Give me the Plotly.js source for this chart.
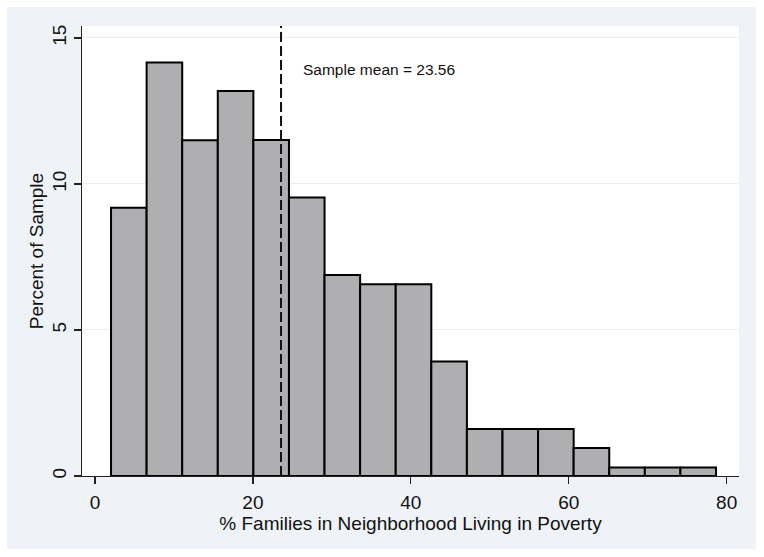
<!DOCTYPE html>
<html>
<head>
<meta charset="utf-8">
<script src="https://cdn.plot.ly/plotly-3.0.1.min.js"></script>
<style>
  html, body { margin: 0; padding: 0; background: #ffffff; width: 764px; height: 557px; overflow: hidden; }
  #chart { position: absolute; left: 7px; top: 7px; width: 749px; height: 542px; }
</style>
</head>
<body>
<div id="chart"></div>
<script>
// Histogram: percent of sample per bin
const binStart = 2.03;      // left edge of first bin
const binWidth = 4.507;     // bin width
const percents = [9.19, 14.16, 11.50, 13.18, 11.51, 9.54, 6.88, 6.57, 6.57, 3.92, 1.61, 1.61, 1.61, 0.96, 0.29, 0.29, 0.29];
const sampleMean = 23.56;
const meanLabel = 'Sample mean = 23.56';
const xTicks = [0, 20, 40, 60, 80];
const yTicks = [0, 5, 10, 15];
const xTitle = '% Families in Neighborhood Living in Poverty';
const yTitle = 'Percent of Sample';

const binLefts = percents.map((_, i) => binStart + i * binWidth);

const font = 'Arial, "Liberation Sans", sans-serif';

const bars = {
  type: 'bar',
  x: binLefts,
  y: percents,
  width: binWidth,
  offset: 0,
  marker: { color: '#afafb2', line: { color: '#000000', width: 2 } },
  hoverinfo: 'skip',
  showlegend: false
};

const layout = {
  width: 749,
  height: 542,
  margin: { l: 75, r: 17, t: 19, b: 73, pad: 0 },
  paper_bgcolor: '#eff3f8',
  plot_bgcolor: '#ffffff',
  bargap: 0,
  showlegend: false,
  font: { family: font, size: 19, color: '#111111' },
  xaxis: {
    range: [-1.646, 81.56],
    tickvals: xTicks,
    ticktext: xTicks.map(String),
    ticks: 'outside',
    ticklen: 7,
    tickwidth: 1.2,
    tickcolor: '#222222',
    ticklabelstandoff: 2,
    showline: true,
    linecolor: '#222222',
    linewidth: 1.3,
    showgrid: false,
    zeroline: false,
    tickfont: { family: font, size: 19, color: '#111111' },
    title: { text: xTitle, font: { family: font, size: 19, color: '#111111' }, standoff: 0 }
  },
  yaxis: {
    range: [0, 15.41],
    tickvals: yTicks,
    ticktext: yTicks.map(String),
    tickangle: -90,
    ticks: 'outside',
    ticklen: 7,
    tickwidth: 1.2,
    tickcolor: '#222222',
    showline: true,
    linecolor: '#222222',
    linewidth: 1.3,
    showgrid: true,
    gridcolor: '#e8eef3',
    gridwidth: 1,
    zeroline: false,
    tickfont: { family: font, size: 19, color: '#111111' },
    title: { text: yTitle, font: { family: font, size: 19, color: '#111111' }, standoff: 0 }
  },
  shapes: [{
    type: 'line',
    xref: 'x', yref: 'paper',
    x0: sampleMean, x1: sampleMean, y0: 0, y1: 1,
    line: { color: '#111111', width: 2, dash: '10px,4px' },
    layer: 'above'
  }],
  annotations: [{
    xref: 'x', yref: 'y',
    x: 26.09, y: 13.93,
    xanchor: 'left', yanchor: 'middle',
    text: meanLabel,
    showarrow: false,
    font: { family: font, size: 15.5, color: '#111111' }
  }]
};

Plotly.newPlot('chart', [bars], layout, { displayModeBar: false, staticPlot: true });
</script>
</body>
</html>
